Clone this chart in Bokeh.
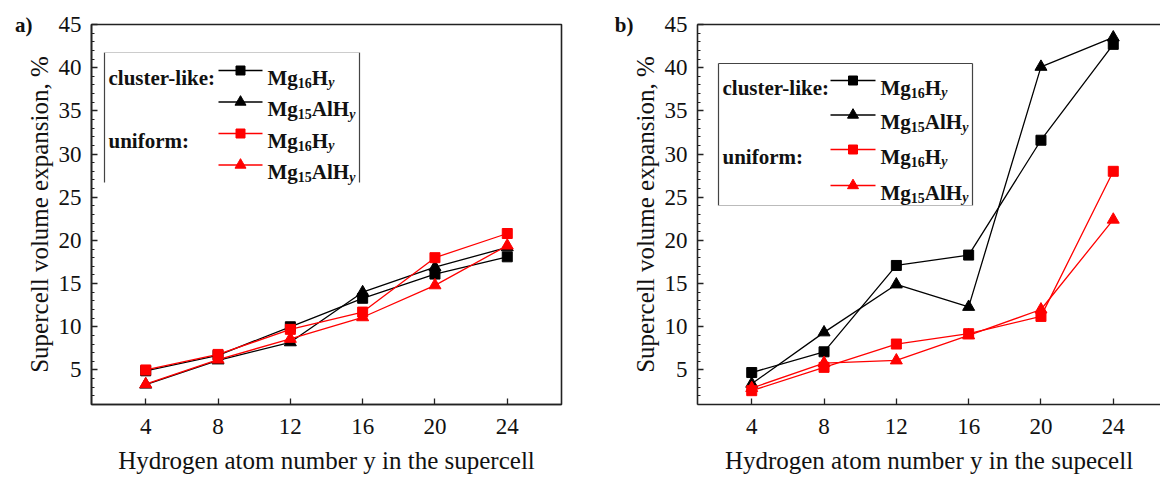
from bokeh.plotting import figure
from bokeh.layouts import row
from bokeh.models import Label, LinearAxis, FixedTicker, SingleIntervalTicker, Range1d
from bokeh.embed import file_html
from bokeh.resources import INLINE

# ---------------- data ----------------
h_atoms = [4, 8, 12, 16, 20, 24]
x_ticks = [4, 8, 12, 16, 20, 24]

# panel a)
a_cluster_mg16 = [4.9, 6.7, 10.0, 13.3, 16.1, 18.1]
a_cluster_mg15al = [3.3, 6.1, 8.2, 14.0, 16.9, 19.2]
a_uniform_mg16 = [5.0, 6.8, 9.7, 11.7, 18.0, 20.8]
a_uniform_mg15al = [3.35, 6.2, 8.6, 11.1, 14.8, 19.4]

# panel b)
b_cluster_mg16 = [4.7, 7.1, 17.1, 18.3, 31.6, 42.7]
b_cluster_mg15al = [3.4, 9.35, 14.9, 12.3, 40.1, 43.5]
b_uniform_mg16 = [2.6, 5.3, 8.0, 9.2, 11.2, 28.0]
b_uniform_mg15al = [2.9, 5.8, 6.1, 9.0, 12.0, 22.4]

group_labels = ["cluster-like:", "uniform:"]
x_title_a = "Hydrogen atom number y in the supercell"
x_title_b = "Hydrogen atom number y in the supecell"
y_title = "Supercell volume expansion, %"

FONT = "Liberation Serif"
INK = "#111111"
Y0, Y1 = 1, 45
X0 = 1
PXU = 470 / 26.0          # pixels per x unit
PYU = 380 / 44.0          # pixels per y unit
FRAME_TOP = 24
PLOT_H = 477

RED = "#ff0000"
BLACK = "#000000"
styles = [(BLACK, "square", 10), (BLACK, "triangle", 12), (RED, "square", 10), (RED, "triangle", 12)]


def lbl(p, x, y, text, size, style="normal", align="left", baseline="alphabetic",
        x_offset=0, y_offset=0):
    p.add_layout(Label(x=x, y=y, x_offset=x_offset, y_offset=y_offset, text=text,
                       text_font=FONT, text_font_size=f"{size}px", text_font_style=style,
                       text_color=INK, text_align=align, text_baseline=baseline))


def make_panel(tag, series, x_title, page_left, width, b_left, b_right, boxed, leg):
    frame_w = width - b_left - b_right
    x_end = X0 + frame_w / PXU
    p = figure(width=width, height=PLOT_H, output_backend="svg", toolbar_location=None,
               x_range=Range1d(X0, x_end), y_range=Range1d(Y0, Y1),
               min_border_left=b_left, min_border_right=b_right,
               min_border_top=FRAME_TOP, min_border_bottom=PLOT_H - FRAME_TOP - 380,
               background_fill_color="white", border_fill_color="white")
    p.grid.visible = False

    def X(px):
        return X0 + (px - page_left) / PXU

    def Y(py):
        return Y1 - (py - FRAME_TOP) / PYU

    p.xaxis.ticker = FixedTicker(ticks=x_ticks, minor_ticks=[])
    p.yaxis.ticker = SingleIntervalTicker(interval=5, num_minor_ticks=5)
    for ax in (p.xaxis[0], p.yaxis[0]):
        ax.axis_line_width = 1.6
        ax.axis_line_color = "#222222"
        ax.major_tick_in = 6
        ax.major_tick_out = 0
        ax.minor_tick_in = 3
        ax.minor_tick_out = 0
        ax.major_tick_line_color = "#222222"
        ax.minor_tick_line_color = "#222222"
        ax.major_tick_line_width = 1.3
        ax.major_label_text_font = FONT
        ax.major_label_text_font_size = "23px"
        ax.major_label_text_color = INK
        ax.axis_label_text_font = FONT
        ax.axis_label_text_font_style = "normal"
        ax.axis_label_text_color = INK
    p.xaxis.major_label_standoff = 14
    p.yaxis.major_label_standoff = 10
    p.yaxis.axis_label = y_title
    p.yaxis.axis_label_text_font_size = "25px"
    p.yaxis.axis_label_standoff = 3
    p.xaxis.axis_label = x_title
    p.xaxis.axis_label_text_font_size = "25px"
    p.xaxis.axis_label_standoff = 10

    if boxed:
        p.outline_line_color = "#222222"
        p.outline_line_width = 1.6
        p.outline_line_alpha = 1.0
    else:
        p.outline_line_color = None
        top = LinearAxis(ticker=FixedTicker(ticks=[]), major_label_text_font_size="0px",
                         major_tick_in=0, major_tick_out=0, minor_tick_in=0, minor_tick_out=0,
                         major_label_standoff=0, axis_line_width=1.6, axis_line_color="#222222")
        p.add_layout(top, "above")

    # panel tag, carried by a tickless outer axis at the level of the top tick
    tag_axis = LinearAxis(ticker=FixedTicker(ticks=[45], minor_ticks=[]),
                          major_label_overrides={45: tag},
                          axis_line_color=None, major_tick_line_color=None,
                          minor_tick_line_color=None,
                          major_tick_in=0, major_tick_out=0, minor_tick_in=0, minor_tick_out=0,
                          major_label_standoff=leg["tag_standoff"],
                          major_label_text_font=FONT, major_label_text_font_size="21px",
                          major_label_text_font_style="bold", major_label_text_color=INK)
    p.add_layout(tag_axis, "left")

    for vals, (col, mk, sz) in zip(series, styles):
        p.line(h_atoms, vals, line_color=col, line_width=1.3)
        p.scatter(h_atoms, vals, marker=mk, size=sz, fill_color=col, line_color=col)

    # legend frame
    bl, bt, br, bb = leg["box"]
    dark = "#444444"
    p.segment([X(bl)], [Y(bt)], [X(bl)], [Y(bb)], line_color=dark, line_width=1.2)
    p.segment([X(br)], [Y(bt)], [X(br)], [Y(bb)], line_color=dark, line_width=1.2)
    p.segment([X(bl)], [Y(bt)], [X(br)], [Y(bt)], line_color=leg["top"], line_width=1.2)
    if leg["bottom"]:
        p.segment([X(bl)], [Y(bb)], [X(br)], [Y(bb)], line_color=leg["bottom"], line_width=1.2)

    s0, s1 = leg["sample"]
    names = [("Mg", "16", "H", "y"), ("Mg", "15", "AlH", "y"),
             ("Mg", "16", "H", "y"), ("Mg", "15", "AlH", "y")]
    fs = 21
    for i, (rc, (col, mk, sz)) in enumerate(zip(leg["rows"], styles)):
        p.segment([X(s0)], [Y(rc)], [X(s1)], [Y(rc)], line_color=col, line_width=1.4)
        p.scatter([X((s0 + s1) / 2)], [Y(rc)], marker=mk, size=sz - 1, fill_color=col, line_color=col)
        base = Y(rc + 7)
        m, sub, h, yy = names[i]
        lx = X(leg["label_x"])
        main_w = (0.944 + 0.5) * fs
        h_w = {"H": 0.778 * fs, "AlH": (0.722 + 0.278 + 0.778) * fs}[h]
        lbl(p, lx, base, m, fs, "bold")
        lbl(p, lx, base, sub, 14, "bold", x_offset=main_w, y_offset=-5)
        lbl(p, lx, base, h, fs, "bold", x_offset=main_w + 14)
        lbl(p, lx, base, yy, 14, "bold italic", x_offset=main_w + 14 + h_w, y_offset=-5)
    for gi, ri in ((0, 0), (1, 2)):
        lbl(p, X(leg["head_x"]), Y(leg["rows"][ri] + 7), group_labels[gi], fs, "bold")
    return p


leg_a = dict(box=(104, 52, 359, 182), top="#cccccc", bottom=None,
             rows=[70, 101.5, 133, 164.5], head_x=108, sample=(218, 262), label_x=267,
             tag_standoff=-10)
leg_b = dict(box=(718, 63, 972, 205), top="#444444", bottom="#bbbbbb",
             rows=[80, 114.5, 149, 185], head_x=722, sample=(830, 875), label_x=880,
             tag_standoff=-5)

A_W, B_W = 600, 560
pa = make_panel("a)", [a_cluster_mg16, a_cluster_mg15al, a_uniform_mg16, a_uniform_mg15al],
                x_title_a, 91, A_W, 91, 39, True, leg_a)
pb = make_panel("b)", [b_cluster_mg16, b_cluster_mg15al, b_uniform_mg16, b_uniform_mg15al],
                x_title_b, 697, B_W, 97, 0, False, leg_b)

layout = row(pa, pb)
open("out.html", "w").write(file_html(layout, INLINE))
